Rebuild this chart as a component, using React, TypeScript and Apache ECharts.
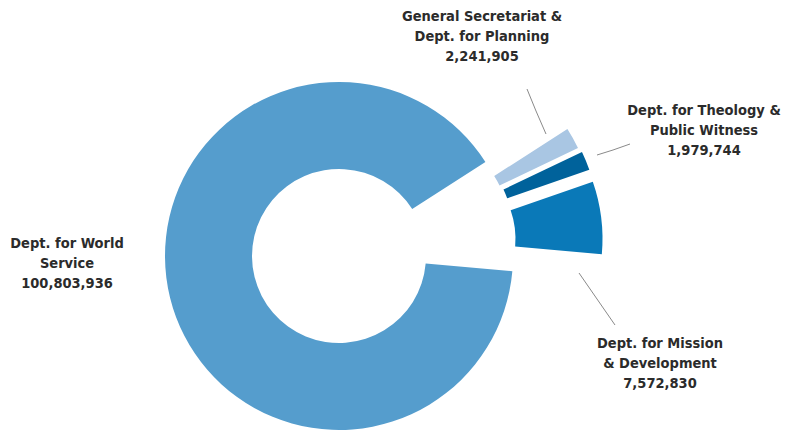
import React, { useEffect, useRef } from "react";
import * as echarts from "echarts";

const categories = [
  "Dept. for World\nService",
  "General Secretariat &\nDept. for Planning",
  "Dept. for Theology &\nPublic Witness",
  "Dept. for Mission\n& Development",
];
const values = [100803936, 2241905, 1979744, 7572830];
const colors = ["#559dcd", "#a9c6e3", "#00629b", "#0a79b8"];

// pull-out displacement of each slice (px)
const explode = [
  [0, 0],
  [82, -33],
  [86, -29],
  [89.5, -17],
];

const labelPos: Record<number, { x: number; y: number; line?: number[][] }> = {
  0: { x: 67, y: 233 },
  1: { x: 482, y: 6, line: [[546, 134], [536, 111], [527, 89]] },
  2: { x: 704, y: 100, line: [[597, 155], [613, 150], [630, 144]] },
  3: { x: 660, y: 333, line: [[579, 273], [597, 299], [615, 325]] },
};

const CX = 339;
const CY = 256;

const fmt = (v: number) => v.toLocaleString("en-US");

export default function App() {
  const ref = useRef<HTMLDivElement>(null);
  useEffect(() => {
    if (!ref.current) return;
    const chart = echarts.init(ref.current, undefined, { renderer: "svg" });
    const series = categories.map((_, k) => ({
      type: "pie",
      center: [CX + explode[k][0], CY + explode[k][1]],
      radius: [87, 174],
      startAngle: -5,
      clockwise: true,
      avoidLabelOverlap: false,
      silent: true,
      z: 2 + k,
      label: {
        show: true,
        formatter: (p: any) => `${p.name}\n${fmt(p.value)}`,
        fontFamily: "'DejaVu Sans Condensed', 'DejaVu Sans', sans-serif",
        fontWeight: "bold",
        fontSize: 14.5,
        lineHeight: 20,
        color: "#2b2b2b",
        align: "center",
      },
      labelLine: {
        show: true,
        lineStyle: { color: "#8a8a8a", width: 1 },
      },
      labelLayout: (params: any) => {
        const p = labelPos[params.dataIndex];
        const out: any = { x: p.x, y: p.y, align: "center", verticalAlign: "top" };
        if (p.line) out.labelLinePoints = p.line;
        return out;
      },
      emphasis: { disabled: true },
      data: categories.map((name, i) => ({
        name,
        value: values[i],
        itemStyle: { color: i === k ? colors[i] : "rgba(0,0,0,0)" },
        label: { show: i === k },
        labelLine: { show: i === k && !!labelPos[i].line },
      })),
    }));
    chart.setOption({
      animation: false,
      backgroundColor: "#ffffff",
      series,
    });
    return () => chart.dispose();
  }, []);
  return (
    <div
      ref={ref}
      style={{ position: "fixed", left: 0, top: 0, width: 787, height: 432 }}
    />
  );
}
